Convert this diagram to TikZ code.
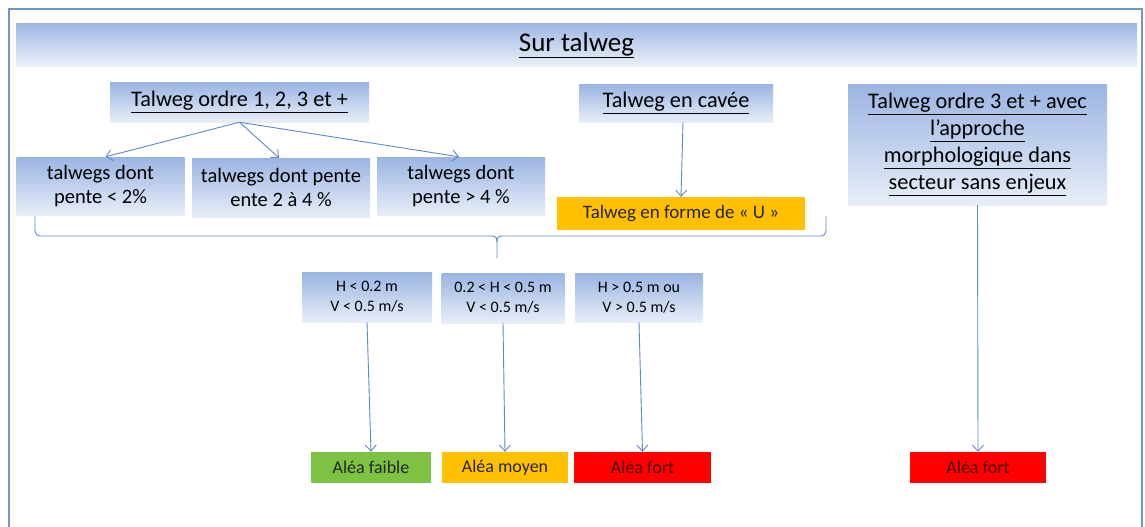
\documentclass[tikz,border=0pt]{standalone}
\usepackage{fontspec}
\setmainfont{Carlito}
\usetikzlibrary{arrows.meta}
\definecolor{frameblue}{HTML}{7096CF}
\definecolor{gradtop}{HTML}{9AB4E2}
\definecolor{gradbot}{HTML}{E8EEF8}
\definecolor{arrowblue}{HTML}{5F88C4}
\definecolor{aleagreen}{HTML}{7DC242}
\definecolor{aleaorange}{HTML}{FFC000}
\definecolor{aleared}{HTML}{FF0000}
\tikzset{
  gbox/.style={rectangle, top color=gradtop, bottom color=gradbot, draw=none,
    inner sep=0pt, align=center, text=black},
  abox/.style={rectangle, draw=none, inner sep=0pt, align=center},
  arr/.style={draw=arrowblue, line width=0.9pt, -{Straight Barb[length=6pt,width=11pt]}},
  ln/.style={draw=arrowblue, line width=0.9pt},
}
\begin{document}
\begin{tikzpicture}[x=1pt,y=-1pt]
\useasboundingbox (0,0) rectangle (1145,527);
\fill[white] (0,0) rectangle (1145,527);
% outer frame
\draw[frameblue, line width=1.6pt] (9,530) -- (9,9) -- (1142,9) -- (1142,530);
% title bar
\node[gbox, top color=gradtop!95, bottom color=gradbot!80!white, minimum width=1121pt, minimum height=43pt,
  font=\fontsize{27}{30}\selectfont] (title) at (576.5,45.5) {\underline{Sur talweg}};
% top boxes
\node[gbox, minimum width=259pt, minimum height=40pt, font=\fontsize{22.3}{26}\selectfont]
  (b1) at (239.5,102) {\underline{Talweg ordre 1, 2, 3 et +}};
\node[gbox, minimum width=194pt, minimum height=38pt, font=\fontsize{22.3}{26}\selectfont]
  (cav) at (676,103) {\underline{Talweg en cavée}};
\node[gbox, minimum width=259pt, minimum height=121pt, font=\fontsize{22.3}{27}\selectfont]
  (b3) at (977.5,144.5) {\underline{Talweg ordre 3 et + avec}\\\underline{l’approche}\\\underline{morphologique dans}\\\underline{secteur sans enjeux}};
% slope boxes
\node[gbox, minimum width=168pt, minimum height=58pt, font=\fontsize{20.5}{24}\selectfont]
  (s1) at (100.5,186) {talwegs dont\\pente < 2\%};
\node[gbox, minimum width=178pt, minimum height=59pt, font=\fontsize{20.5}{24}\selectfont]
  (s2) at (281,187.5) {talwegs dont pente\\ente 2 à 4 \%};
\node[gbox, minimum width=168pt, minimum height=58pt, font=\fontsize{20.5}{24}\selectfont]
  (s3) at (461,186) {talwegs dont\\pente > 4 \%};
\node[abox, fill=aleaorange, minimum width=248pt, minimum height=33pt, text=black!85, font=\fontsize{19}{22}\selectfont]
  (u) at (681,213.5) {Talweg en forme de « U »};
% H boxes
\node[gbox, minimum width=130pt, minimum height=50pt, font=\fontsize{16}{20}\selectfont]
  (h1) at (367,297) {H < 0.2 m\\V < 0.5 m/s};
\node[gbox, minimum width=123pt, minimum height=50pt, font=\fontsize{16}{20}\selectfont]
  (h2) at (503,298) {0.2 < H < 0.5 m\\V < 0.5 m/s};
\node[gbox, minimum width=128pt, minimum height=49pt, font=\fontsize{16}{20}\selectfont]
  (h3) at (639,297.5) {H > 0.5 m ou\\V > 0.5 m/s};
% result boxes
\node[abox, fill=aleagreen, text=black!85, minimum width=120pt, minimum height=31pt, font=\fontsize{18}{21}\selectfont]
  (g) at (371,467.5) {Aléa faible};
\node[abox, fill=aleaorange, text=black!85, minimum width=126pt, minimum height=31pt, font=\fontsize{18}{21}\selectfont]
  (o) at (505,467.5) {Aléa moyen};
\node[abox, fill=aleared, text=black!70!red, minimum width=137pt, minimum height=31pt, font=\fontsize{18}{21}\selectfont]
  (r1) at (642.5,467.5) {Aléa fort};
\node[abox, fill=aleared, text=black!70!red, minimum width=136pt, minimum height=31pt, font=\fontsize{18}{21}\selectfont]
  (r2) at (978,467.5) {Aléa fort};
% arrows
\draw[arr] (b1.south) -- ([xshift=5pt]s1.north);
\draw[arr] (b1.south) -- ([xshift=-2pt]s2.north);
\draw[arr] (b1.south) -- ([xshift=-2pt]s3.north);
\draw[arr] ([xshift=7pt]cav.south) -- (u.north);
\draw[arr] (h1.south) -- (g.north);
\draw[arr] (h2.south) -- (o.north);
\draw[arr] (h3.south) -- (r1.north);
\draw[arr] (b3.south) -- (r2.north);
% brace
\coordinate (bl) at (35,216);
\coordinate (br) at (826,216);
\coordinate (bt) at (497,258);
\draw[arrowblue, line width=0.9pt, rounded corners=5pt]
  (bl) -- (bl |- 0,236) -- (492,236);
\draw[arrowblue, line width=0.9pt, rounded corners=5pt]
  (br) -- (br |- 0,236) -- (502,236);
\draw[arrowblue, line width=0.9pt] (492,236) .. controls (496,236) and (497,238) .. (497,242) -- (bt);
\draw[arrowblue, line width=0.9pt] (502,236) .. controls (498,236) and (497,238) .. (497,242);
\end{tikzpicture}
\end{document}
